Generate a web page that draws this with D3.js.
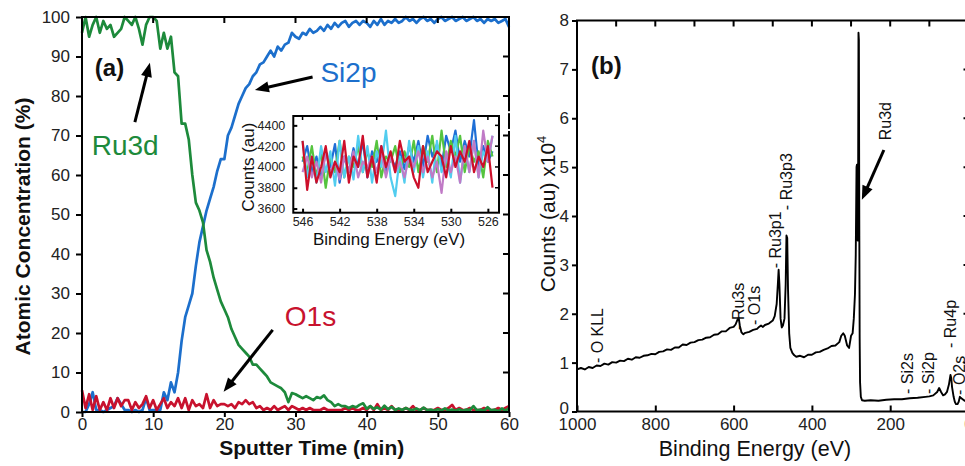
<!DOCTYPE html>
<html><head><meta charset="utf-8">
<script src="https://cdn.jsdelivr.net/npm/d3@7"></script>
<style>body{margin:0;background:#fff}svg{display:block;font-family:"Liberation Sans",Arial,sans-serif}</style>
</head><body><svg id="c" width="965" height="466"></svg>
<script>
// ---------- Panel (a) data ----------
const sputterTime = [0,0.5,1,1.5,2,2.5,3,3.5,4,4.5,5,5.5,6,6.5,7,7.5,8,8.5,9,9.5,10,10.5,11,11.5,12,12.5,13,13.5,14,14.5,15,15.5,16,16.5,17,17.5,18,18.5,19,19.5,20,20.5,21,21.5,22,22.5,23,23.5,24,24.5,25,25.5,26,26.5,27,27.5,28,28.5,29,29.5,30,30.5,31,31.5,32,32.5,33,33.5,34,34.5,35,35.5,36,36.5,37,37.5,38,38.5,39,39.5,40,40.5,41,41.5,42,42.5,43,43.5,44,44.5,45,45.5,46,46.5,47,47.5,48,48.5,49,49.5,50,50.5,51,51.5,52,52.5,53,53.5,54,54.5,55,55.5,56,56.5,57,57.5,58,58.5,59,59.5,60];
const ru3d = [96,100,95,98,100,96,99,97,98,95, 96,97,100,99,98,100,97,93,98,100, 100,99,92,96,92,95,86,85,73,73, 69,60,53,51,48,41,38,34,31,28, 26,24,21,19,17,16,15,14,12,12, 11,10,9,7.5,7,6.5,6,5,2.5,4.8, 4.5,4,3.5,4,3.5,3,3.8,3.5,4.2,3, 2.5,1.5,2,1.5,1.5,1,1.5,1.2,1.8,2.2, 0.8,1.5,0.8,1.2,0.6,1.6,0.7,1.3,0.5,0.9, 0.5,1,0.6,0.5,0.9,0.4,1.1,0.5,0.6,0.3, 0.7,0.4,0.9,0.4,0.6,0.3,0.7,0.3,0.6,0.5, 1.5,0.4,0.6,0.3,1.2,0.4,0.6,0.2,0.9,0.3, 1];
const si2p = [0,0,2,5,0.5,0.5,0,0.5,1,1.5, 3.5,2,0.5,0.5,0,0.5,0,0.5,3.5,0.5, 0.5,0.5,0.5,5,3,7.5,5,10,18,24, 27,30,37,43,47,51,54,57,61,64, 64,70,72,75,78,80,82,83,85,86, 88,88.5,90,91.5,90,92.5,91.5,93,93.5,96, 95,94.5,96,95.5,97,96,96.5,97.5,96.5,98, 97,98.5,97.5,98.5,99,97.5,98.5,99,98,99, 98.5,97.5,99,98,99.5,98,99,98.5,99.5,98.5, 99,100,99,99.5,98.5,99.5,100,99,99.5,98.5, 99.5,100,99,99.5,100,99,99.5,100,99,99.5, 100,99,99.5,98.5,99.5,99,99.5,98.5,99,99.5, 97.5];
const o1s = [5.5,1,4.5,0.5,4,0.5,2.5,0.5,3.5,1, 3.5,1.5,3,3,0.5,2.5,1,2,4,1, 3,0.5,2,3.5,1,2.5,1.5,3.5,1,3.5, 0.5,3,1.5,2,1,4.5,1,3,1.5,2, 2,1.5,2,1,2.5,2,3,2,2.5,1, 1.5,0.5,1,0.5,1.5,0.5,1,1.5,0.5,1.5, 1,0.5,1,0.5,1,0.5,0.5,0.5,1,0.5, 0.5,0.5,0.5,0.5,1,0.5,1,0.5,0.5,1, 0.5,1.5,0.5,2,0.5,1,0.5,1.5,0.5,0.5, 0.5,1,0.5,1.5,0.5,0.5,1,0.5,0.5,0.5, 1,0.5,0.5,1,1.8,0.5,1,0.5,0.5,1, 0.5,0.5,0.5,1,0.5,0.5,0.5,1,0.5,1, 1.5];
const timeTicks = [0,10,20,30,40,50,60];
const concTicks = [0,10,20,30,40,50,60,70,80,90,100];

// ---------- Inset data ----------
const insetEnergy = [546,545.5,545,544.5,544,543.5,543,542.5,542,541.5,541,540.5,540,539.5,539,538.5,538,537.5,537,536.5,536,535.5,535,534.5,534,533.5,533,532.5,532,531.5,531,530.5,530,529.5,529,528.5,528,527.5,527,526.5,526,525.5];
const insetBlue = [4050,4200,3950,4100,3880,4150,4000,4220,3850,4100,3950,4180,4000,4250,3900,4150,4050,4200,3950,4100,4000,4150,3980,4200,4050,4250,4000,4300,4100,4220,4000,4300,4150,4350,4050,4250,4100,4450,4000,4200,4050,4150];
const insetGreen = [4100,3950,4200,3900,4150,3800,4100,3950,4250,3900,4100,4000,4200,3950,4150,4000,4250,3900,4100,4050,4200,3950,4150,4000,4250,3950,4200,4050,4300,3950,4350,4000,4250,4100,4300,3950,4200,4050,4150,3900,4250,4100];
const insetCyan = [4250,3900,4100,3850,4200,3950,4150,3820,4250,3900,4100,3880,4300,3950,4200,3850,4150,4000,4350,3900,3720,4100,3850,4250,3950,4200,3900,4150,3850,4250,3950,4100,3900,4300,3850,4200,3950,4250,3900,4150,4050,4300];
const insetMagenta = [3950,4100,3900,4050,3850,4150,3950,4050,3880,4100,3950,4150,3900,4050,4000,4100,3950,4150,3900,4100,3950,4050,3900,4100,4000,4150,3950,4100,3900,4050,3750,4150,3950,4100,3850,4200,3950,4250,3900,4350,4050,4300];
const insetRed = [4250,3780,4100,3850,4000,4200,3900,4050,3950,4250,3850,4100,4000,4300,3900,4100,3850,4200,4000,4150,3950,4250,4050,4100,3900,3800,4200,3950,4050,4150,4100,3900,4200,4000,4150,4050,4250,3950,4100,4000,4200,3800];
const insetETicks = [546,542,538,534,530,526];
const insetCTicks = [3600,3800,4000,4200,4400];

// ---------- Panel (b) data ----------
const surveyEnergy = [1000,990,980,970,960,950,940,930,920,910,900,890,880,870,860,850,840,830,820,810,800,790,780,770,760,750,740,730,720,710,700,690,680,670,660,650,640,630,620,610,600,595,590,587,584,580,575,570,560,550,540,535,530,525,520,510,500,495,490,487,485,483,480,477,474,470,467,465,463,461,458,455,450,445,440,430,420,410,400,390,380,370,360,350,340,330,325,320,316,310,305,300,296,293,290,288,286,285,284,283,282,281,280,279,278,277,275,272,265,250,230,210,190,170,150,130,110,100,90,80,75,70,65,60,55,50,46,44,42,38,35,32,28,25,22,20,15,10,5,0];
const surveyCounts = [0.86,0.89,0.86,0.91,0.89,0.94,0.93,0.98,0.96,1.01,1.0,1.04,1.03,1.08,1.06,1.11,1.1,1.14,1.15,1.18,1.17,1.22,1.23,1.27,1.26,1.31,1.31,1.37,1.36,1.41,1.42,1.46,1.47,1.51,1.52,1.57,1.58,1.64,1.64,1.71,1.73,1.78,1.88,1.92,1.75,1.62,1.58,1.61,1.63,1.67,1.69,1.73,1.76,1.73,1.77,1.8,1.86,1.95,2.2,2.6,2.9,2.6,1.9,1.72,1.76,1.9,2.6,3.6,3.55,2.5,1.6,1.3,1.2,1.15,1.12,1.14,1.11,1.16,1.16,1.21,1.22,1.26,1.29,1.34,1.35,1.42,1.55,1.6,1.55,1.35,1.3,1.55,1.6,1.9,2.4,3.2,5.0,5.05,4.8,3.5,4.5,7.75,7.6,4.0,1.5,0.6,0.3,0.23,0.22,0.23,0.22,0.24,0.25,0.25,0.27,0.28,0.3,0.31,0.33,0.4,0.48,0.4,0.33,0.35,0.4,0.55,0.75,0.68,0.5,0.3,0.2,0.15,0.15,0.2,0.3,0.28,0.25,0.22,0.2,0.2];
const energyTicks = [1000,800,600,400,200,0];
const energyMinor = [900,800,700,600,500,400,300,200,100];
const countTicks = [0,1,2,3,4,5,6,7,8];
const peakLabels = [
  {text:"- O KLL", e:933.6, c:0.99},
  {text:"- Ru3s", e:573.7, c:1.67},
  {text:"- O1s", e:533, c:1.77},
  {text:"- Ru3p1", e:479, c:2.93},
  {text:"- Ru3p3", e:451, c:4.12},
  {text:"Ru3d", e:197, c:5.55},
  {text:"- Si2s", e:142, c:0.36},
  {text:"- Si2p", e:88.6, c:0.36},
  {text:"- Ru4p", e:32.4, c:1.3},
  {text:"- O2s", e:9.3, c:0.34}
];

const colGreen = "#1d8a3b", colBlue = "#1c6fcc", colRed = "#c8122e";
const insetCols = ["#1f6fd6","#55c43f","#52cdef","#c07ac6","#cc0f2a"];
const fmt = d3.format("d");

const svg = d3.select("#c");
svg.append("rect").attr("width",965).attr("height",466).attr("fill","#fff");

function arrow(g,x1,y1,x2,y2){
  const dx=x2-x1, dy=y2-y1, L=Math.hypot(dx,dy), ux=dx/L, uy=dy/L, hl=14, hw=5.5;
  const bx=x2-ux*hl, by=y2-uy*hl;
  g.append("line").attr("x1",x1).attr("y1",y1).attr("x2",bx+ux*2).attr("y2",by+uy*2)
    .attr("stroke","#000").attr("stroke-width",3);
  g.append("path").attr("d",`M${x2},${y2}L${bx-uy*hw},${by+ux*hw}L${bx+uy*hw},${by-ux*hw}Z`).attr("fill","#000");
}
function styleAxis(sel,fs){
  sel.select(".domain").remove();
  sel.selectAll(".tick line").attr("stroke","#000").attr("stroke-width",2);
  sel.selectAll(".tick text").attr("font-size",fs).attr("fill","#222").attr("font-family","Liberation Sans, Arial, sans-serif");
}

// ================= Panel (a) =================
const xA = d3.scaleLinear().domain([0,60]).range([82,509]);
const yA = d3.scaleLinear().domain([0,100]).range([412,17]);
const gA = svg.append("g");
const lineA = vals => d3.line().x((d,i)=>xA(sputterTime[i])).y(d=>yA(d))(vals);
[[si2p,colBlue],[o1s,colRed],[ru3d,colGreen]].forEach(([v,c])=>{
  gA.append("path").attr("d",lineA(v)).attr("fill","none").attr("stroke",c)
    .attr("stroke-width",2.7).attr("stroke-linejoin","round");
});
gA.append("rect").attr("x",xA(0)).attr("y",yA(100)).attr("width",xA(60)-xA(0)).attr("height",yA(0)-yA(100))
  .attr("fill","none").attr("stroke","#000").attr("stroke-width",2);
gA.append("g").attr("transform",`translate(${xA(0)},0)`)
  .call(d3.axisLeft(yA).tickValues(concTicks).tickFormat(fmt).tickSize(6).tickPadding(6).tickSizeOuter(0))
  .call(s=>styleAxis(s,17));
gA.append("g").attr("transform",`translate(0,${yA(0)})`)
  .call(d3.axisBottom(xA).tickValues(timeTicks).tickFormat(fmt).tickSize(5).tickPadding(1).tickSizeOuter(0))
  .call(s=>styleAxis(s,17));
gA.selectAll(".ttop").data(timeTicks.slice(1,-1)).join("line")
  .attr("x1",d=>xA(d)).attr("x2",d=>xA(d)).attr("y1",yA(100)).attr("y2",yA(100)+6)
  .attr("stroke","#000").attr("stroke-width",2);
gA.selectAll(".tright").data(concTicks.slice(1,-1)).join("line")
  .attr("x1",xA(60)).attr("x2",xA(60)-6).attr("y1",d=>yA(d)).attr("y2",d=>yA(d))
  .attr("stroke","#000").attr("stroke-width",2);
[75.9,71.4].forEach(v=>gA.append("rect").attr("x",xA(60)-4).attr("y",yA(v)-1).attr("width",9).attr("height",2).attr("fill","#fff"));

gA.append("text").attr("x",xA(1.8)).attr("y",yA(85)).attr("font-size",24).attr("font-weight","bold").attr("fill","#111").text("(a)");
gA.append("text").attr("x",xA(1.36)).attr("y",yA(65.1)).attr("font-size",28).attr("fill",colGreen).text("Ru3d");
gA.append("text").attr("x",xA(33.5)).attr("y",yA(83.5)).attr("font-size",28).attr("fill",colBlue).text("Si2p");
gA.append("text").attr("x",xA(28.5)).attr("y",yA(21.8)).attr("font-size",28).attr("fill",colRed).text("O1s");
arrow(gA,xA(7.43),yA(73.4),xA(9.54),yA(88.4));
arrow(gA,xA(32.4),yA(84.8),xA(24.3),yA(81.5));
arrow(gA,xA(26.8),yA(20.8),xA(19.9),yA(5.1));

gA.append("text").attr("transform",`translate(30,${(93+360)/2}) rotate(-90)`).attr("text-anchor","middle")
  .attr("font-size",21).attr("font-weight","bold").attr("fill","#111").text("Atomic Concentration (%)");
gA.append("text").attr("x",311.7).attr("y",455).attr("text-anchor","middle")
  .attr("font-size",21).attr("font-weight","bold").attr("fill","#111").text("Sputter Time (min)");

// ---------- Inset ----------
const xI = d3.scaleLinear().domain([547,524.8]).range([293.3,499]);
const yI = d3.scaleLinear().domain([3560,4490]).range([212.7,116]);
const gI = svg.append("g");
gI.append("rect").attr("x",xI.range()[0]).attr("y",yI.range()[1]).attr("width",xI.range()[1]-xI.range()[0])
  .attr("height",yI.range()[0]-yI.range()[1]).attr("fill","#fff");
const lineI = vals => d3.line().x((d,i)=>xI(insetEnergy[i])).y(d=>yI(d))(vals);
[insetBlue,insetGreen,insetCyan,insetMagenta,insetRed].forEach((v,k)=>{
  gI.append("path").attr("d",lineI(v)).attr("fill","none").attr("stroke",insetCols[k])
    .attr("stroke-width",2.2).attr("stroke-linejoin","round");
});
gI.append("rect").attr("x",xI.range()[0]).attr("y",yI.range()[1]).attr("width",xI.range()[1]-xI.range()[0])
  .attr("height",yI.range()[0]-yI.range()[1]).attr("fill","none").attr("stroke","#000").attr("stroke-width",2);
gI.append("g").attr("transform",`translate(${xI.range()[0]},0)`)
  .call(d3.axisLeft(yI).tickValues(insetCTicks).tickFormat(fmt).tickSizeInner(-4).tickPadding(8).tickSizeOuter(0))
  .call(s=>styleAxis(s,12.5));
gI.append("g").attr("transform",`translate(0,${yI.range()[0]})`)
  .call(d3.axisBottom(xI).tickValues(insetETicks).tickFormat(fmt).tickSizeInner(-4).tickPadding(4).tickSizeOuter(0))
  .call(s=>styleAxis(s,12.5));
gI.selectAll(".irt").data(insetCTicks.slice(1)).join("line")
  .attr("x1",xI.range()[1]).attr("x2",xI.range()[1]-4).attr("y1",d=>yI(d)).attr("y2",d=>yI(d))
  .attr("stroke","#000").attr("stroke-width",1.5);
gI.selectAll(".itp").data(insetETicks).join("line")
  .attr("x1",d=>xI(d)).attr("x2",d=>xI(d)).attr("y1",yI.range()[1]).attr("y2",yI.range()[1]+4)
  .attr("stroke","#000").attr("stroke-width",1.5);
gI.append("text").attr("transform",`translate(254,167) rotate(-90)`).attr("text-anchor","middle")
  .attr("font-size",17).attr("fill","#111").text("Counts (au)");
gI.append("text").attr("x",389).attr("y",245).attr("text-anchor","middle")
  .attr("font-size",17).attr("fill","#111").text("Binding Energy (eV)");

// ================= Panel (b) =================
const xB = d3.scaleLinear().domain([1000,0]).range([577,968.5]);
const yB = d3.scaleLinear().domain([0,8]).range([411.5,20.5]);
const gB = svg.append("g");
gB.append("path").attr("d",d3.line().x((d,i)=>xB(surveyEnergy[i])).y(d=>yB(d))(surveyCounts))
  .attr("fill","none").attr("stroke","#000").attr("stroke-width",1.9).attr("stroke-linejoin","round");
gB.append("rect").attr("x",xB(1000)).attr("y",yB(8)).attr("width",xB(0)-xB(1000)).attr("height",yB(0)-yB(8))
  .attr("fill","none").attr("stroke","#000").attr("stroke-width",2);
gB.append("g").attr("transform",`translate(${xB(1000)},0)`)
  .call(d3.axisLeft(yB).tickValues(countTicks).tickFormat(fmt).tickSize(5).tickPadding(3).tickSizeOuter(0))
  .call(s=>styleAxis(s,17))
  .call(s=>s.selectAll(".tick text").filter(d=>d===0).attr("y",-3));
gB.append("g").attr("transform",`translate(0,${yB(0)})`)
  .call(d3.axisBottom(xB).tickValues(energyTicks).tickFormat(fmt).tickSizeInner(-6).tickPadding(6).tickSizeOuter(0))
  .call(s=>styleAxis(s,17));
gB.selectAll(".btp").data(energyMinor).join("line")
  .attr("x1",d=>xB(d)).attr("x2",d=>xB(d)).attr("y1",yB(8)).attr("y2",yB(8)+6)
  .attr("stroke","#000").attr("stroke-width",2);
gB.selectAll(".brt").data(countTicks.slice(1,-1)).join("line")
  .attr("x1",xB(0)).attr("x2",xB(0)-5).attr("y1",d=>yB(d)).attr("y2",d=>yB(d))
  .attr("stroke","#000").attr("stroke-width",2);
gB.selectAll(".pl").data(peakLabels).join("text")
  .attr("transform",d=>`translate(${xB(d.e)},${yB(d.c)}) rotate(-90)`)
  .attr("font-size",16).attr("fill","#111").text(d=>d.text);
arrow(gB,xB(216.2),yB(5.35),xB(272.4),yB(4.33));
gB.append("text").attr("x",591).attr("y",74).attr("font-size",24).attr("font-weight","bold").attr("fill","#111").text("(b)");
const yt = gB.append("text").attr("transform",`translate(555,214) rotate(-90)`).attr("text-anchor","middle")
  .attr("font-size",21).attr("fill","#111");
yt.append("tspan").text("Counts (au) x10");
yt.append("tspan").attr("font-size",13).attr("dy",-9).text("4");
gB.append("text").attr("x",755).attr("y",456).attr("text-anchor","middle")
  .attr("font-size",21.5).attr("fill","#111").text("Binding Energy (eV)");
</script></body></html>
